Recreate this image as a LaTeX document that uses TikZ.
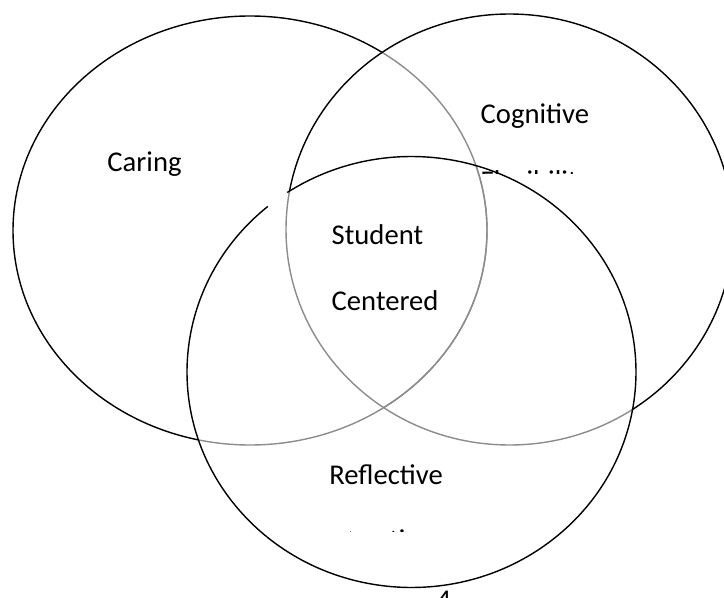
\documentclass[tikz,border=0pt]{standalone}
\usepackage{fontspec}
\setmainfont{Carlito}
\newcommand\vennsize{\fontsize{16.3}{19}\selectfont}

\begin{document}
\begin{tikzpicture}[line width=.8pt,
        every node/.style={inner sep=0pt,font=\vennsize},
        faint/.style={draw=black!45},
        lring/.style={x radius=4.74,y radius=4.29},
        rring/.style={x radius=4.47,y radius=4.31},
        bring/.style={x radius=4.49,y radius=4.31}]
            \useasboundingbox (0,0) rectangle (14.48,11.94);
            \coordinate (l) at (5.00,7.33);
            \coordinate (r) at (10.19,7.35);
            \coordinate (b) at (8.23,4.50);
            % left ring, black outside the other two
            \begin{scope}
                \clip (-1,-1) -- (-1,13) -- (16,13) -- (16,-1) -- cycle (r) ellipse [rring];
                \clip (-1,-1) -- (-1,13) -- (16,13) -- (16,-1) -- cycle (b) ellipse [bring];
                \draw (l) ellipse [lring];
            \end{scope}
            \begin{scope}
                \clip (r) ellipse [rring];
                \draw[faint] (l) ellipse [lring];
            \end{scope}
            \begin{scope}
                \clip (b) ellipse [bring];
                \draw[faint] (l) ellipse [lring];
            \end{scope}
            % right ring
            \begin{scope}
                \clip (-1,-1) -- (-1,13) -- (16,13) -- (16,-1) -- cycle (b) ellipse [bring];
                \draw (r) ellipse [rring];
            \end{scope}
            \begin{scope}
                \clip (b) ellipse [bring];
                \draw[faint] (r) ellipse [rring];
            \end{scope}
            % bottom ring, open at the top left
            \draw ([shift={(129.8:4.49 and 4.31)}]b) arc [start angle=129.8,end angle=483.6,bring];
            \node (caring) [anchor=base] at (2.89,8.50) {Caring};
            \node (cognitive) [anchor=base west] at (9.60,9.46) {Cognitive};
            \begin{scope}
                \clip (9,8.465) rectangle (12,8.54);
                \node (flexibility) [anchor=base west] at (9.60,8.12) {Flexibility};
            \end{scope}
            \node (student) [anchor=base west] at (6.62,7.06) {Student};
            \node (centered) [anchor=base west] at (6.62,5.72) {Centered};
            \node (reflective) [anchor=base] at (7.72,2.26) {Reflective};
            \begin{scope}
                \clip (7,1.31) rectangle (9,1.36);
                \node (practice) [anchor=base] at (7.71,0.95) {Practice};
            \end{scope}
            \node (pagenum) [anchor=base west] at (8.72,-0.24) {4};
        \end{tikzpicture}
\end{document}
